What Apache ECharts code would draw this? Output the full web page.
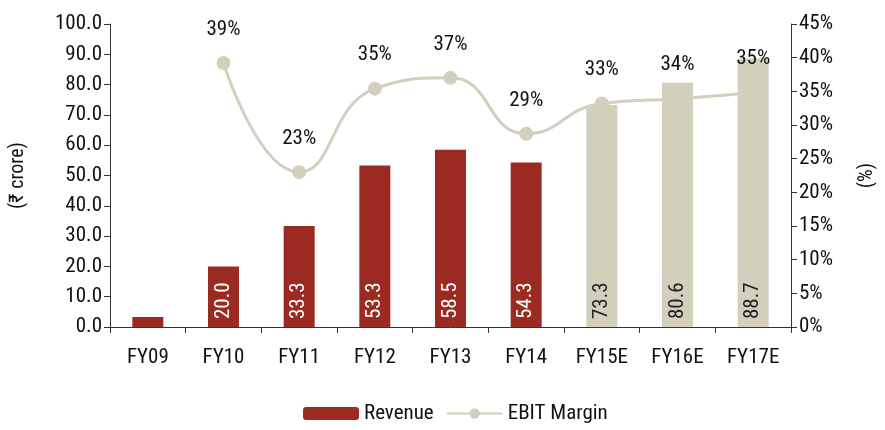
<!DOCTYPE html>
<html>
<head>
<meta charset="utf-8">
<script src="https://cdn.jsdelivr.net/npm/echarts@6/dist/echarts.min.js"></script>
<style>
  html, body { margin: 0; padding: 0; background: #fff; }
  #chart { width: 885px; height: 430px; }
</style>
</head>
<body>
<div id="chart"></div>
<script>
// data
const years = ['FY09', 'FY10', 'FY11', 'FY12', 'FY13', 'FY14', 'FY15E', 'FY16E', 'FY17E'];
const revenue = [3.3, 20.0, 33.3, 53.3, 58.5, 54.3, 73.3, 80.6, 88.7];
const ebitMargin = [null, 39.2, 23.0, 35.4, 37.0, 28.7, 33.2, 33.9, 34.8];
const estimateFrom = 6; // FY15E onward are estimates

const FONT = '"Liberation Sans Narrow", "Roboto Condensed", Roboto, sans-serif';
const RED = '#9b2a22';
const BEIGE = '#d2cfbd';
const INK = '#111';

const chart = echarts.init(document.getElementById('chart'));

const barData = revenue.map((v, i) => {
  const est = i >= estimateFrom;
  return {
    value: v,
    itemStyle: { color: est ? BEIGE : RED },
    label: { color: est ? '#222' : '#fff', show: i > 0 }
  };
});

const tickStyle = { show: true, lineStyle: { color: '#333' }, length: 6 };

chart.setOption({
  animation: false,
  textStyle: { fontFamily: FONT },
  grid: { left: 109, right: 93, top: 24, bottom: 103 },
  legend: {
    bottom: 1,
    left: 298,
    itemWidth: 56,
    itemHeight: 13,
    itemGap: 12,
    textStyle: { fontFamily: FONT, fontSize: 21, color: INK },
    data: ['Revenue', 'EBIT Margin']
  },
  xAxis: {
    type: 'category',
    data: years,
    axisLine: { lineStyle: { color: '#333' } },
    axisTick: tickStyle,
    axisLabel: { color: INK, fontSize: 21, margin: 20, fontFamily: FONT }
  },
  yAxis: [
    {
      type: 'value',
      min: 0, max: 100, interval: 10,
      name: '(₹ crore)',
      nameLocation: 'middle',
      nameGap: 82,
      nameRotate: 90,
      nameTextStyle: { fontSize: 20, color: INK, fontFamily: FONT },
      splitLine: { show: false },
      axisLine: { show: true, lineStyle: { color: '#333' } },
      axisTick: tickStyle,
      axisLabel: { color: INK, fontSize: 21, fontFamily: FONT, formatter: v => v.toFixed(1) }
    },
    {
      type: 'value',
      min: 0, max: 45, interval: 5,
      name: '(%)',
      nameLocation: 'middle',
      nameGap: 66,
      nameRotate: 90,
      nameTextStyle: { fontSize: 20, color: INK, fontFamily: FONT },
      splitLine: { show: false },
      axisLine: { show: true, lineStyle: { color: '#333' } },
      axisTick: tickStyle,
      axisLabel: { color: INK, fontSize: 21, fontFamily: FONT, formatter: '{value}%' }
    }
  ],
  series: [
    {
      name: 'EBIT Margin',
      type: 'line',
      yAxisIndex: 1,
      data: ebitMargin,
      smooth: true,
      z: 1,
      symbol: 'circle',
      symbolSize: 14,
      lineStyle: { color: BEIGE, width: 3 },
      itemStyle: { color: BEIGE }
    },
    {
      name: 'Revenue',
      type: 'bar',
      data: barData,
      barWidth: 31,
      z: 2,
      itemStyle: { color: RED },
      label: {
        show: true,
        position: 'insideBottom',
        rotate: 90,
        align: 'left',
        verticalAlign: 'middle',
        distance: 8,
        fontSize: 21,
        fontFamily: FONT,
        formatter: p => p.value.toFixed(1)
      }
    },
    {
      // margin labels, drawn above the bars
      name: 'EBIT Margin labels',
      type: 'line',
      yAxisIndex: 1,
      data: ebitMargin,
      smooth: true,
      z: 3,
      silent: true,
      symbol: 'circle',
      symbolSize: 14,
      itemStyle: { color: 'transparent' },
      lineStyle: { color: 'transparent', width: 0 },
      label: {
        show: true,
        position: 'top',
        distance: 16,
        color: INK,
        fontSize: 21,
        fontFamily: FONT,
        formatter: p => Math.round(p.value) + '%'
      }
    }
  ]
});
</script>
</body>
</html>
